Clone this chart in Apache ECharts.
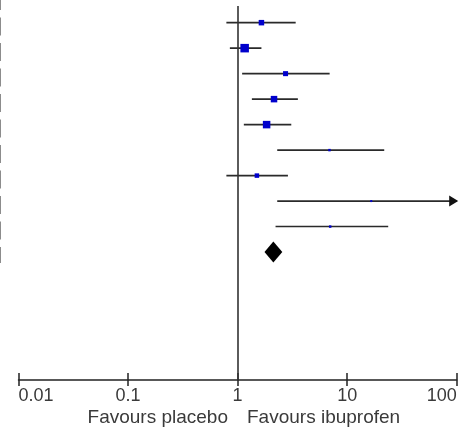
<!DOCTYPE html>
<html>
<head>
<meta charset="utf-8">
<script src="https://cdn.jsdelivr.net/npm/echarts@6/dist/echarts.min.js"></script>
<style>
  html, body { margin: 0; padding: 0; background: #fff; }
  #chart { width: 461px; height: 428px; }
</style>
</head>
<body>
<div id="chart"></div>
<script>
// ---- Data ----
const pointEstimate = [1.65, 1.16, 2.74, 2.15, 1.84, 6.9, 1.50, 16.6, 7.0];
const lowerCI       = [0.79, 0.85, 1.10, 1.35, 1.14, 2.30, 0.79, 2.30, 2.22];
const upperCI       = [3.39, 1.65, 6.92, 3.55, 3.09, 21.8, 2.88, 120, 23.7];
const studyWeight   = [11.5, 27.6, 9.6, 16.1, 21.5, 2.3, 7.7, 1.5, 2.3];
const pooledEstimate = 2.12;
const pooledLower    = 1.76;
const pooledUpper    = 2.56;
const tickValues = [0.01, 0.1, 1, 10, 100];
const tickLabels = ['0.01', '0.1', '1', '10', '100'];
const leftFavourText  = 'Favours placebo';
const rightFavourText = 'Favours ibuprofen';

const X_MIN = 0.01, X_MAX = 100;
const Y_MIN = -0.65, Y_MAX = 14;
const FONT = "'Liberation Sans', Arial, sans-serif";
const GRID_TOP = 6.1, GRID_BOTTOM = 48.5, CHART_H = 428;
const GRID_H = CHART_H - GRID_TOP - GRID_BOTTOM;

const studyData = pointEstimate.map((e, i) => [i, e, lowerCI[i], upperCI[i], studyWeight[i]]);
const pooledData = [[pointEstimate.length, pooledEstimate, pooledLower, pooledUpper]];

const chart = echarts.init(document.getElementById('chart'), null, { renderer: 'canvas' });

function renderStudy(params, api) {
  const row = api.value(0), est = api.value(1), lo = api.value(2), hi = api.value(3), w = api.value(4);
  const pLo = api.coord([Math.max(lo, X_MIN), row]);
  const pHi = api.coord([Math.min(hi, X_MAX), row]);
  const pE = api.coord([est, row]);
  const s = 1.62 * Math.sqrt(w);
  const children = [
    { type: 'line', shape: { x1: pLo[0], y1: pLo[1], x2: pHi[0], y2: pHi[1] },
      style: { stroke: '#2a2a2a', lineWidth: 1.6 } },
    { type: 'rect', shape: { x: pE[0] - s / 2, y: pE[1] - s / 2, width: s, height: s },
      style: { fill: '#0000cc' } }
  ];
  if (hi > X_MAX) {
    children.push({ type: 'polygon',
      shape: { points: [[pHi[0] + 1.5, pHi[1]], [pHi[0] - 7.5, pHi[1] - 5.5], [pHi[0] - 7.5, pHi[1] + 5.5]] },
      style: { fill: '#111' } });
  }
  return { type: 'group', children };
}

function renderPooled(params, api) {
  const row = api.value(0), est = api.value(1), lo = api.value(2), hi = api.value(3);
  const pLo = api.coord([lo, row]), pHi = api.coord([hi, row]), pE = api.coord([est, row]);
  const h = 10.5;
  return { type: 'polygon',
    shape: { points: [[pLo[0], pLo[1]], [pE[0], pE[1] - h], [pHi[0], pHi[1]], [pE[0], pE[1] + h]] },
    style: { fill: '#000' } };
}

const option = {
  animation: false,
  backgroundColor: '#fff',
  grid: { left: 18.5, right: 4.3, top: GRID_TOP, bottom: GRID_BOTTOM, containLabel: false },
  xAxis: [
    {
      type: 'log', logBase: 10, min: X_MIN, max: X_MAX, splitNumber: 4, position: 'bottom',
      axisLine: { show: true, onZero: false, lineStyle: { color: '#222', width: 1.5 } },
      axisTick: { show: true, inside: false, length: 6.5, lineStyle: { color: '#222', width: 1.5 } },
      axisLabel: {
        show: true, margin: 8, color: '#3a3a3a', fontSize: 18, fontFamily: FONT,
        alignMinLabel: 'left', alignMaxLabel: 'right',
        formatter: (v) => {
          const idx = tickValues.findIndex(t => Math.abs(Math.log10(t) - Math.log10(v)) < 1e-6);
          return idx >= 0 ? tickLabels[idx] : '';
        }
      },
      splitLine: { show: false }
    },
    {
      // mirror axis placed on the bottom edge, carrying the upward half of each tick
      type: 'log', logBase: 10, min: X_MIN, max: X_MAX, splitNumber: 4,
      position: 'top', offset: -GRID_H,
      axisLine: { show: false, onZero: false },
      axisTick: { show: true, inside: false, length: 6.5, lineStyle: { color: '#222', width: 1.5 } },
      axisLabel: { show: false },
      splitLine: { show: false }
    }
  ],
  yAxis: {
    type: 'value', min: Y_MIN, max: Y_MAX, inverse: true, show: false
  },
  series: [
    {
      type: 'line', data: [], silent: true, xAxisIndex: 0,
      markLine: {
        silent: true, symbol: ['none', 'none'], label: { show: false },
        lineStyle: { color: '#333', width: 1.6, type: 'solid' },
        data: [{ xAxis: 1 }]
      }
    },
    {
      type: 'custom', renderItem: renderStudy, data: studyData, xAxisIndex: 0,
      encode: { x: [1, 2], y: 0 }, clip: false, silent: true
    },
    {
      type: 'custom', renderItem: renderPooled, data: pooledData, xAxisIndex: 0,
      encode: { x: [1, 2, 3], y: 0 }, clip: false, silent: true
    }
  ],
  graphic: [
    { type: 'line', shape: { x1: 0.5, y1: -8, x2: 0.5, y2: 263 },
      style: { stroke: '#8c8c8c', lineWidth: 1, lineDash: [18, 7.5] }, silent: true },
    { type: 'text', x: 228, y: 417.7,
      style: { text: leftFavourText, fill: '#3a3a3a', font: '19px ' + FONT, textAlign: 'right', textVerticalAlign: 'middle' } },
    { type: 'text', x: 247, y: 417.7,
      style: { text: rightFavourText, fill: '#3a3a3a', font: '19px ' + FONT, textAlign: 'left', textVerticalAlign: 'middle' } }
  ]
};

chart.setOption(option);
</script>
</body>
</html>
